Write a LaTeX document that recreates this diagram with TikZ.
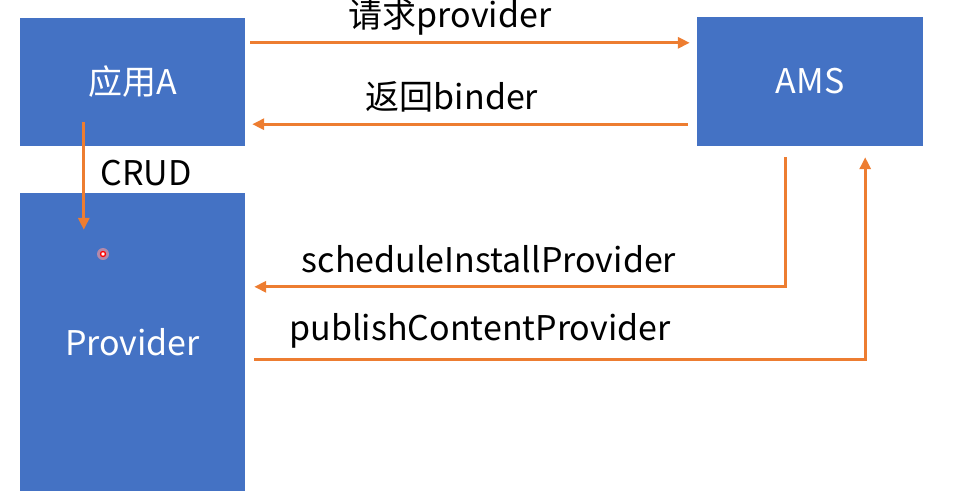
\documentclass[tikz,border=0pt]{standalone}
\usepackage{fontspec}
\setmainfont{Noto Sans CJK SC}
\usetikzlibrary{arrows.meta,calc}
\definecolor{boxblue}{HTML}{4472C4}
\definecolor{arrorange}{HTML}{ED7D31}
\begin{document}
\begin{tikzpicture}[x=1pt,y=-1pt,
  box/.style={fill=boxblue, draw=none, inner sep=0pt, minimum width=225pt,
    text=white, font=\fontsize{34}{40}\selectfont},
  arr/.style={draw=arrorange, line width=2.9pt, -{Triangle[length=12pt,width=11pt]}},
  lbl/.style={text=black, font=\fontsize{34}{40}\selectfont, inner sep=0pt}]
\useasboundingbox (0,0) rectangle (955,493);
\node[box, minimum height=128pt] (app) at (132.5,82) {应用A};
\node[box, minimum width=226pt, minimum height=129pt] (ams) at (810,81.5) {AMS};
\node[box, minimum height=298pt] (prov) at (132.5,342) {Provider};
% arrows
\draw[arr] ($(app.north east)+(5,25)$) -- ($(ams.north west)+(-7,26)$);
\node[lbl] (l1) at (450,17) {请求provider};
\draw[arr] ($(ams.south west)+(-9,-22)$) -- ($(app.south east)+(7,-22)$);
\node[lbl] (l2) at (452,97) {返回binder};
\draw[arr] ($(app.south west)+(64,-24)$) -- ($(prov.north west)+(64,37)$);
\node[lbl] (l3) at (146,173) {CRUD};
\draw[arr] ($(ams.south west)+(89,11)$) |- ($(prov.north east)+(9,94)$);
\node[lbl] (l4) at (489,259) {scheduleInstallProvider};
\draw[arr] ($(prov.north east)+(9,167)$) -| ($(ams.south east)+(-58,11)$);
\node[lbl] (l5) at (480,331) {publishContentProvider};
% pointer mark
\fill[red!40, opacity=0.6] (103,254) circle (6pt);
\draw[red, line width=1.3pt, fill=white] (103,254) circle (2.5pt);
\end{tikzpicture}
\end{document}
